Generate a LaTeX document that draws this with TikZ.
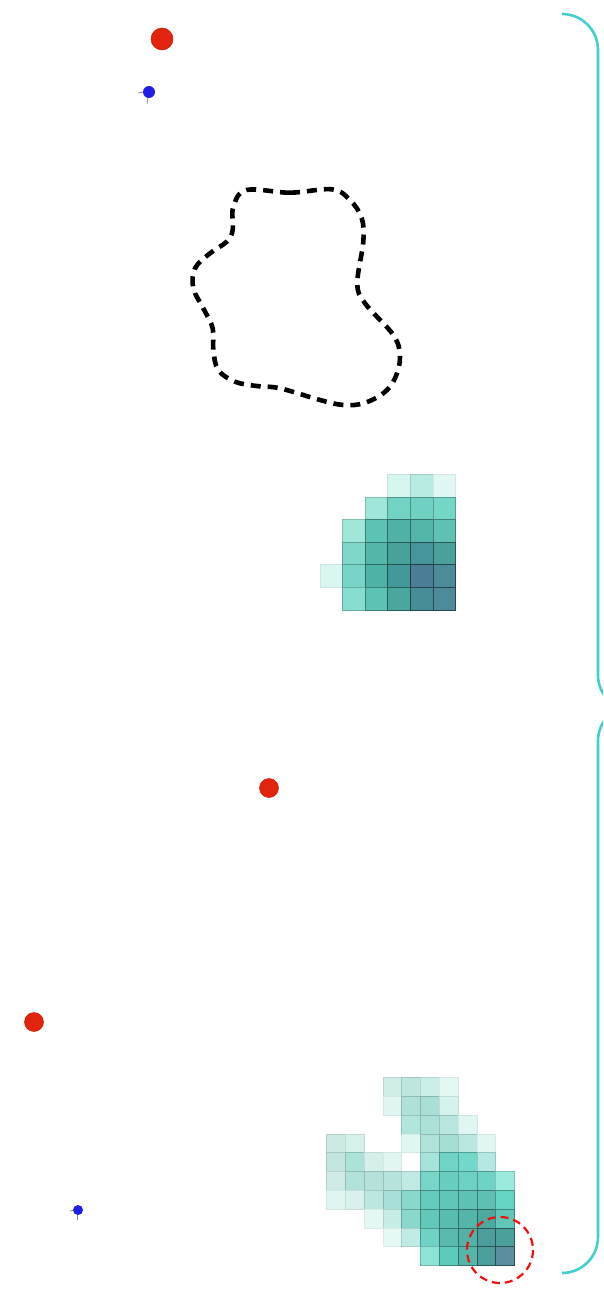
\documentclass[tikz,border=0pt]{standalone}
\begin{document}
\begin{tikzpicture}[x=1pt,y=-1pt]
\tikzset{
  bracket/.style={draw={rgb,255:red,64;green,208;blue,208}, line width=2.6pt, rounded corners=36pt},
  reddot/.style={fill={rgb,255:red,226;green,36;blue,14}, draw={rgb,255:red,200;green,30;blue,10}, line width=0.5pt},
  bluedot/.style={fill={rgb,255:red,30;green,30;blue,230}},
  tick/.style={draw=gray, line width=0.7pt},
  blob/.style={draw=black, line width=4.6pt, dash pattern=on 10pt off 7pt},
  ring/.style={draw={rgb,255:red,240;green,16;blue,16}, line width=2.2pt, dash pattern=on 8pt off 5pt}
}
\newcommand{\gridcell}[5]{% x0 y0 size hex lw
  \definecolor{cellc}{HTML}{#4}%
  \convertcolorspec{HTML}{#4}{gray}\cellgv
  \pgfmathsetmacro\cellmix{100-95*(1-\cellgv)}%
  \filldraw[fill=cellc, draw=cellc!\cellmix!black, line width=#5]
    (#1,#2) rectangle ++(#3,#3);
}
\useasboundingbox (0,0) rectangle (603,1297);
\clip (0,0) rectangle (603,1297);
\fill[white] (0,0) rectangle (603,1297);

% brackets
\draw[bracket] (562,14) -- (598,14) -- (598,711) -- (634,711);
\draw[bracket] (634,705) -- (598,705) -- (598,1273) -- (562,1273);

% dots
\fill[reddot] (162,39) circle (11);
\fill[reddot] (269,788) circle (9.5);
\fill[reddot] (34,1022) circle (9.5);

\draw[tick] (138,93) -- (144,92);
\draw[tick] (148,97) -- (147,104);
\fill[bluedot] (149,92) circle (6);
\draw[tick] (70,1211) -- (74,1210);
\draw[tick] (77,1214) -- (77,1220);
\fill[bluedot] (78,1210) circle (5);

% dashed blob
\draw[blob] plot[smooth cycle, tension=0.6] coordinates {
(246.7,190) (290,192.7) (331.7,189.3) (350,200) (361.7,218.3) (363.3,241.7)
(357.3,283.3) (365,303.3) (393.3,335) (400,356.7) (395,378.3) (383.3,393.3)
(363.3,403.3) (343.3,405) (320,400) (280,388.3) (256.7,386) (235,381.7)
(218.3,370) (213.3,350) (212.7,328.3) (203.3,308.3) (193.3,288.3) (195,268.3)
(210,253.3) (226.7,241.7) (232.7,230) (233.3,206.7)};

% grid 1
\foreach \c/\r/\h in {
3/0/D6F5EF,4/0/B8ECE3,5/0/E0F7F3,
2/1/A0E7DA,3/1/72D2C3,4/1/70D0C1,5/1/74D6C7,
1/2/A0E6D9,2/2/5DC3B4,3/2/50B2A6,4/2/53B4A8,5/2/5EC1B3,
1/3/7ED7C9,2/3/53B8AA,3/3/47A299,4/3/45959A,5/3/4AA09A,
0/4/DAF6F1,1/4/78D4C6,2/4/4FB2A6,3/4/43989A,4/4/4B7E96,5/4/4C8B98,
1/5/87DDD0,2/5/5CC2B4,3/5/49A79D,4/5/478D98,5/5/4E8B9A}{
  \pgfmathsetmacro\px{320+22.6*\c}\pgfmathsetmacro\py{474.3+22.6*\r}
  \gridcell{\px}{\py}{22.6}{\h}{0.8pt}
}

% grid 2
\foreach \c/\r/\h in {
3/0/D0EDE8,4/0/BFE6DF,5/0/CBEEE8,6/0/E3F7F3,
3/1/E0F5F1,4/1/AFE1D9,5/1/AADFD7,6/1/D5F1EC,
4/2/B2E6DD,5/2/ABE1D8,6/2/B8E6DE,7/2/DFF6F2,
0/3/CDE9E4,1/3/D5F1EC,4/3/E0F7F2,5/3/AFE3DA,6/3/A4DED5,7/3/B8E8E0,8/3/E2F7F3,
0/4/C4E6E0,1/4/ADE2D9,2/4/D5F0EB,3/4/E2F5F1,5/4/A6E3DA,6/4/6FD4C5,7/4/72D8C9,8/4/B5E8E0,
0/5/D0EBE6,1/5/B0E2DA,2/5/B5E1DA,3/5/B6E3DC,4/5/BFE9E2,5/5/77D6C8,6/5/68CFC0,7/5/6DD1C3,8/5/6ED2C4,9/5/9AEADD,
0/6/E0F5F1,1/6/D8F1EC,2/6/BCE7E0,3/6/A8DFD7,4/6/8AD8CC,5/6/63CBBC,6/6/5FC5B7,7/6/5EC2B5,8/6/5DC0B3,9/6/67D3C3,
2/7/E5F7F3,3/7/C8EDE7,4/7/8AD8CC,5/7/62C9BA,6/7/58BCAE,7/7/54B5A9,8/7/4EA9A0,9/7/5FC6B8,
3/8/E6F8F4,4/8/C0EBE4,5/8/6ED3C4,6/8/58B9AC,7/8/52B2A6,8/8/4C9D9B,9/8/4AA09B,
5/9/8CE4D6,6/9/5CCBBB,7/9/55B7AA,8/9/4C9F9C,9/9/5A8F9E}{
  \pgfmathsetmacro\px{326.5+18.8*\c}\pgfmathsetmacro\py{1077.5+18.8*\r}
  \gridcell{\px}{\py}{18.8}{\h}{0.7pt}
}

% red dashed ring
\draw[ring] (500,1250) circle (33);
\end{tikzpicture}
\end{document}
